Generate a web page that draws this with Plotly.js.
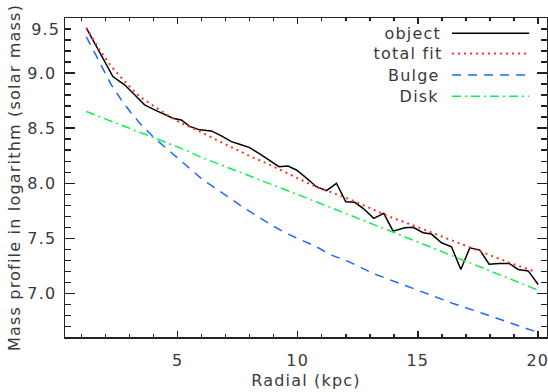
<!DOCTYPE html>
<html>
<head>
<meta charset="utf-8">
<script src="https://cdn.plot.ly/plotly-3.0.1.min.js"></script>
<style>
html,body{margin:0;padding:0;background:#fff;}
.main-svg text{letter-spacing:1.2px;}
</style>
</head>
<body>
<div id="chart" style="width:548px;height:392px;"></div>
<script>
// ---- data ----
const objectRadius = [1.196,1.542,1.958,2.304,2.583,2.792,3.208,3.625,4.042,4.529,4.804,5.154,5.5,5.917,6.404,6.821,7.238,7.583,8.0,8.417,8.833,9.221,9.596,9.946,10.292,10.779,11.196,11.613,12.0,12.375,12.721,13.167,13.583,13.971,14.458,14.804,15.221,15.571,15.988,16.404,16.792,17.167,17.583,17.971,18.388,18.804,19.179,19.596,20.013];
const objectMass = [9.41,9.273,9.105,8.969,8.924,8.894,8.803,8.712,8.666,8.621,8.591,8.575,8.516,8.485,8.475,8.430,8.378,8.355,8.324,8.266,8.205,8.151,8.157,8.121,8.06,7.969,7.933,8.0,7.833,7.827,7.773,7.682,7.727,7.566,7.596,7.6,7.551,7.539,7.46,7.424,7.218,7.415,7.394,7.266,7.273,7.273,7.218,7.205,7.082];

const fitRadius = [1.196,1.75,2.238,2.863,3.417,4.113,4.667,5.154,5.638,5.988,6.613,7.304,8.0,8.696,9.529,10.292,10.846,11.333,12.167,13.0,13.833,14.667,15.5,16.333,17.167,18.0,18.833,19.917];
const fitMass = [9.41,9.212,9.06,8.909,8.787,8.682,8.605,8.545,8.5,8.464,8.394,8.318,8.248,8.182,8.091,8.015,7.96,7.924,7.855,7.773,7.696,7.63,7.56,7.491,7.424,7.348,7.278,7.196];

const bulgeRadius = [1.196,1.542,1.888,2.238,2.654,3.071,3.488,4.042,5.5,6.054,6.679,7.167,7.792,8.346,8.904,9.529,10.154,10.779,11.404,12.029,12.583,13.138,14.25,15.363,16.471,17.721,18.971,19.946];
const bulgeMass = [9.33,9.182,9.03,8.894,8.757,8.636,8.53,8.409,8.136,8.03,7.939,7.864,7.773,7.697,7.621,7.545,7.485,7.424,7.348,7.298,7.242,7.182,7.091,7.0,6.909,6.818,6.727,6.651];

const diskRadius = [1.196,5.5,5.917,10.5,15.5,20.01];
const diskMass = [8.651,8.287,8.242,7.855,7.424,7.03];

const seriesNames = ["object","total fit","Bulge","Disk"];
const yTickVals = [7.0,7.5,8.0,8.5,9.0,9.5];
const yTickText = ["7.0","7.5","8.0","8.5","9.0",""];
const xTickVals = [5,10,15,20];

// ---- styles ----
const FONT = "DejaVu Sans, sans-serif";
const TXT = "#3a3a3a";
const FS = 16;
const styles = [
  {color:"#000000", width:1.5, dash:"solid"},
  {color:"#ff3322", width:2, dash:"2px,4px"},
  {color:"#2266ff", width:1.5, dash:"9px,7px"},
  {color:"#11ee55", width:1.5, dash:"9px,4px,2px,4px"}
];

const xs = [objectRadius, fitRadius, bulgeRadius, diskRadius];
const ys = [objectMass, fitMass, bulgeMass, diskMass];
const traces = xs.map((x,i)=>({
  x:x, y:ys[i], type:"scatter", mode:"lines", name:seriesNames[i],
  line:{color:styles[i].color, width:styles[i].width, dash:styles[i].dash},
  showlegend:false, hoverinfo:"skip"
}));

// manual legend (text left of line sample)
const legY = [0.952,0.889,0.821,0.755];
const annotations = seriesNames.map((n,i)=>({
  xref:"paper", yref:"paper", x:0.776, y:legY[i], xanchor:"right", yanchor:"middle",
  text:n, showarrow:false, font:{family:FONT,size:FS,color:TXT}
}));
annotations.push({xref:"paper", yref:"y", x:-0.011, y:9.4, xanchor:"right", yanchor:"middle",
  text:"9.5", showarrow:false, font:{family:FONT,size:FS,color:TXT}});
const shapes = seriesNames.map((n,i)=>({
  type:"line", xref:"paper", yref:"paper", x0:0.803, x1:0.963, y0:legY[i], y1:legY[i],
  line:{color:styles[i].color, width:styles[i].width, dash:styles[i].dash}
}));

const axisCommon = {
  showline:true, linecolor:"#222", linewidth:1.5, mirror:"ticks",
  ticks:"inside", tickcolor:"#222", tickwidth:1.5,
  showgrid:false, zeroline:false,
  tickfont:{family:FONT, size:FS, color:TXT}
};

const layout = {
  width:548, height:392,
  margin:{l:65, r:1, t:18, b:55, pad:0},
  paper_bgcolor:"#fff", plot_bgcolor:"#fff",
  showlegend:false,
  xaxis: Object.assign({}, axisCommon, {
    range:[0.31,20.38], tickmode:"array", tickvals:xTickVals, ticklen:6,
    minor:{dtick:1, tick0:0, ticks:"inside", ticklen:3, tickcolor:"#222", tickwidth:1.5},
    title:{text:"Radial (kpc)", font:{family:FONT,size:FS,color:TXT}, standoff:6},
    ticklabelstandoff:8, ticklabeloverflow:"allow"
  }),
  yaxis: Object.assign({}, axisCommon, {
    range:[6.605,9.5], tickmode:"array", tickvals:yTickVals, ticktext:yTickText, ticklen:10,
    minor:{dtick:0.1, tick0:0, ticks:"inside", ticklen:6, tickcolor:"#222", tickwidth:1.5},
    title:{text:"Mass profile in logarithm (solar mass)", font:{family:FONT,size:FS,color:TXT}, standoff:6},
    ticklabelstandoff:4
  }),
  annotations:annotations,
  shapes:shapes
};

Plotly.newPlot("chart", traces, layout, {staticPlot:true, displayModeBar:false});
</script>
</body>
</html>
